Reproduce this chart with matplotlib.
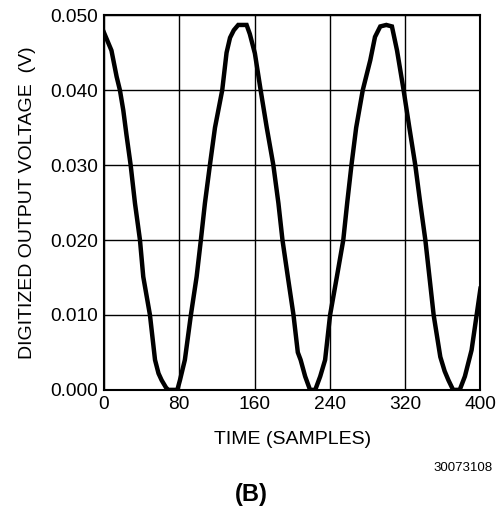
import numpy as np
from matplotlib import pyplot as plt

# points (sample index, volts)
samples = [0, 4, 8, 13.5, 17, 20.6, 24, 28.4, 33, 38.3, 41.8, 48.9, 54.3, 58,
           61.3, 66, 68.4, 72, 78, 80.8, 86, 92.4, 98.5, 103, 107.3, 112.6,
           118, 125.7, 130.3, 134, 138, 142.7, 146, 151.6, 155, 160.4, 166.5,
           173, 180, 185.4, 189.7, 195.5, 201.4, 206, 209, 213.8, 219, 224.5,
           229.8, 235, 240.3, 247.5, 254.3, 258.5, 263, 268, 275, 283, 288,
           293.6, 300, 306, 311.4, 318.4, 324.5, 330.8, 336, 341.5, 346.8,
           350.3, 357.4, 362, 366, 371, 378, 383.5, 390.6, 396, 400]
volts = [0.0477, 0.0465, 0.0453, 0.0418, 0.0400, 0.0373, 0.0340, 0.0300,
         0.0249, 0.0200, 0.0151, 0.0100, 0.0040, 0.0022, 0.0013, 0.0003,
         0.0, 0.0, 0.0, 0.0013, 0.0040, 0.0100, 0.0151, 0.0200, 0.0249,
         0.0300, 0.0350, 0.0400, 0.0450, 0.0470, 0.0480, 0.0487, 0.0487,
         0.0487, 0.0475, 0.0449, 0.0400, 0.0350, 0.0300, 0.0249, 0.0200,
         0.0150, 0.0100, 0.0050, 0.0040, 0.0018, 0.0, 0.0, 0.0018, 0.0040,
         0.0100, 0.0151, 0.0200, 0.0250, 0.0300, 0.0350, 0.0400, 0.0440,
         0.0471, 0.0485, 0.0487, 0.0485, 0.0453, 0.0400, 0.0350, 0.0300,
         0.0250, 0.0200, 0.0140, 0.0100, 0.0044, 0.0025, 0.0013, 0.0, 0.0,
         0.0018, 0.0053, 0.0100, 0.0135]

xticks = [0, 80, 160, 240, 320, 400]
yticks = [0.000, 0.010, 0.020, 0.030, 0.040, 0.050]
ytick_labels = ['0.000', '0.010', '0.020', '0.030', '0.040', '0.050']

plt.rcParams['font.family'] = ['Liberation Sans', 'DejaVu Sans']

fig = plt.figure(figsize=(5.02, 5.07), dpi=100)
ax = fig.add_axes([0.207, 0.231, 0.750, 0.739])

ax.plot(samples, volts, '-k', lw=3.2, solid_joinstyle='miter')

ax.set_xlim(0, 400)
ax.set_ylim(0, 0.05)
ax.set_xticks(xticks)
ax.set_yticks(yticks)
ax.set_yticklabels(ytick_labels)
ax.tick_params(length=0, labelsize=13.8, pad=4.5)
ax.grid(color='k', linewidth=1.0)
for s in ax.spines.values():
    s.set_linewidth(1.5)

ax.set_xlabel('TIME (SAMPLES)', fontsize=14, labelpad=13)
ax.set_ylabel('DIGITIZED OUTPUT VOLTAGE  (V)', fontsize=14, labelpad=10)

fig.text(0.982, 0.077, '30073108', fontsize=9.5, ha='right', va='center')
fig.text(0.50, 0.024, '(B)', fontsize=17, fontweight='bold',
         ha='center', va='center')

plt.savefig('out.png', dpi=100)
